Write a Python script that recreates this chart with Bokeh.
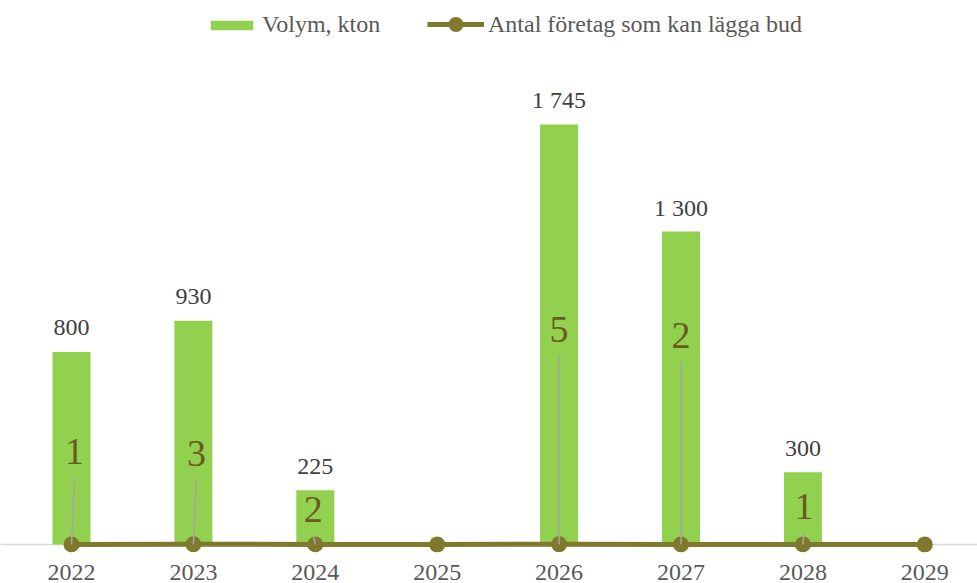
from bokeh.plotting import figure
from bokeh.models import (Range1d, ColumnDataSource, Legend, LegendItem, FixedTicker, Span)
from bokeh.core.properties import value
from bokeh.embed import file_html
from bokeh.resources import INLINE

# ---------------- data ----------------
years = ["2022", "2023", "2024", "2025", "2026", "2027", "2028", "2029"]
volume_kton = [800, 930, 225, 0, 1745, 1300, 300, 0]
companies = [1, 3, 2, 0, 5, 2, 1, 0]

# ---------------- layout / style ----------------
FONT = "Liberation Serif"
GREEN = "#92D050"
OLIVE = "#7F792D"
COUNT_TXT = "#6B5A1F"
FRAME_W, FRAME_H = 977, 552
PX_PER_CAT = 121.9
PX_PER_KTON = 0.2407
BASE_PAD = 8            # px between baseline and frame bottom
FIRST_CAT_PX = 71       # px from frame left to first category centre
# count-label placement (pixel shifts from each point)
count_label_dx = [3, 3, -2, 0, 0, 0, 1, 0]
count_label_rise = [79, 77, 21, 0, 201, 195, 24, 0]
TEXT_FIX = 14           # baseline correction for the big labels

x = list(range(len(years)))
x_start = -FIRST_CAT_PX / PX_PER_CAT
x_end = x_start + FRAME_W / PX_PER_CAT
y_start = -BASE_PAD / PX_PER_KTON
y_end = (FRAME_H - BASE_PAD) / PX_PER_KTON
COUNT_END = 10000.0
count_px = COUNT_END / (FRAME_H - BASE_PAD)
count_start = -BASE_PAD * count_px

p = figure(frame_width=FRAME_W, frame_height=FRAME_H, output_backend="svg",
           toolbar_location=None, x_range=Range1d(x_start, x_end),
           y_range=Range1d(y_start, y_end),
           min_border_left=0, min_border_right=0, min_border_top=0, min_border_bottom=0)
p.extra_y_ranges = {"count": Range1d(count_start, COUNT_END)}
p.outline_line_color = None
p.xgrid.visible = False
p.ygrid.visible = False
p.yaxis.visible = False
p.background_fill_color = "white"
p.border_fill_color = "white"

# x axis
ax = p.xaxis[0]
ax.ticker = FixedTicker(ticks=x)
ax.major_label_overrides = {i: y for i, y in enumerate(years)}
ax.axis_line_color = None
ax.major_tick_line_color = None
ax.minor_tick_line_color = None
ax.major_tick_out = 0
ax.major_tick_in = 0
ax.major_label_text_font = FONT
ax.major_label_text_font_size = "24px"
ax.major_label_text_color = "#595959"
ax.major_label_standoff = 12

# baseline
p.add_layout(Span(location=0, dimension="width", line_color="#D9D9D9",
                  line_width=1.5, level="underlay"))

# bars
src = ColumnDataSource(dict(x=x, vol=volume_kton, cnt=companies))
bars = p.vbar(x="x", top="vol", width=38 / PX_PER_CAT, source=src,
              fill_color=GREEN, line_color=None)

# volume labels
lab_idx = [i for i, v in enumerate(volume_kton) if v > 0]
vsrc = ColumnDataSource(dict(
    x=[x[i] for i in lab_idx],
    y=[volume_kton[i] for i in lab_idx],
    t=[f"{volume_kton[i]:,}".replace(",", " ") for i in lab_idx]))
p.text(x="x", y="y", text="t", source=vsrc, text_font=value(FONT),
       text_font_size="24px", text_color="#404040", text_align="center",
       text_baseline="alphabetic", y_offset=-24)

# line of companies (secondary scale)
line_r = p.line(x="x", y="cnt", source=src, y_range_name="count",
                line_color=OLIVE, line_width=5)
mark_r = p.scatter(x="x", y="cnt", source=src, y_range_name="count",
                   size=16, fill_color=OLIVE, line_color=None)

# leader lines + count labels
c_idx = [i for i, c in enumerate(companies) if c > 0]
lsrc = ColumnDataSource(dict(
    x0=[x[i] for i in c_idx],
    y0=[companies[i] for i in c_idx],
    x1=[x[i] + count_label_dx[i] / PX_PER_CAT for i in c_idx],
    y1=[companies[i] + (count_label_rise[i] - 12) * count_px for i in c_idx]))
p.segment(x0="x0", y0="y0", x1="x1", y1="y1", source=lsrc, y_range_name="count",
          line_color="#A6A6A6", line_width=1.5)
csrc = ColumnDataSource(dict(
    x=[x[i] for i in c_idx],
    y=[companies[i] for i in c_idx],
    t=[str(companies[i]) for i in c_idx],
    dx=[count_label_dx[i] for i in c_idx],
    dy=[-(count_label_rise[i] + TEXT_FIX) for i in c_idx]))
p.text(x="x", y="y", text="t", source=csrc, y_range_name="count",
       x_offset="dx", y_offset="dy", text_font=value(FONT), text_font_size="38px",
       text_color=COUNT_TXT, text_align="center", text_baseline="alphabetic")

# legends (two, so the marker in the line swatch can be large)
common = dict(orientation="horizontal", label_text_font=FONT,
              label_text_font_size="24px", label_text_color="#595959",
              label_standoff=4, spacing=0, padding=0, margin=0,
              border_line_color=None, background_fill_alpha=0)
leg_a = Legend(items=[LegendItem(label="Volym, kton", renderers=[bars])],
               location=(205, FRAME_H - 24 - 14), glyph_width=53, glyph_height=12,
               **common)
leg_b = Legend(items=[LegendItem(label="Antal företag som kan lägga bud",
                                 renderers=[line_r, mark_r])],
               location=(427, FRAME_H - 24 - 19), glyph_width=57, glyph_height=38,
               **common)
p.add_layout(leg_a)
p.add_layout(leg_b)

open("out.html", "w").write(file_html(p, INLINE))
